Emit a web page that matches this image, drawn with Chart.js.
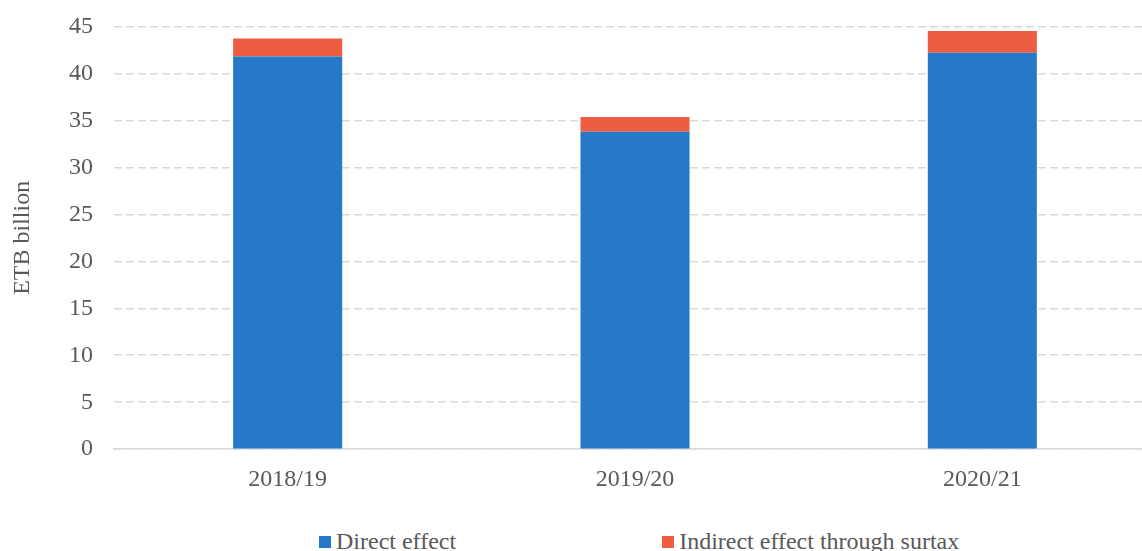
<!DOCTYPE html>
<html>
<head>
<meta charset="utf-8">
<script src="https://cdn.jsdelivr.net/npm/chart.js@4.4.1/dist/chart.umd.min.js"></script>
<style>
  body { margin: 0; background: #fff; }
  #wrap { position: relative; width: 1142px; height: 551px; overflow: hidden; }
  #box { position: absolute; left: 0; top: -9px; width: 1156px; height: 519px; }
  #legend { position: absolute; left: 319px; top: 528px; display: flex; font: 24px "Liberation Serif", serif; color: #595959; white-space: nowrap; }
  #legend .item { display: flex; align-items: center; margin-right: 206px; }
  #legend .sw { width: 12px; height: 12px; margin-right: 5px; }
</style>
</head>
<body>
<div id="wrap">
  <div id="box"><canvas id="myChart"></canvas></div>
  <div id="legend"></div>
</div>
<script>
const years = ['2018/19', '2019/20', '2020/21'];
const directEffect = [41.8, 33.8, 42.2];
const indirectEffect = [1.9, 1.55, 2.3];
const seriesNames = ['Direct effect', 'Indirect effect through surtax'];
const seriesColors = ['#2678c8', '#ec5d41'];

const font = { family: '"Liberation Serif", serif', size: 24 };
const textColor = '#595959';
const gridColor = '#d9d9d9';

const ctx = document.getElementById('myChart').getContext('2d');
const myChart = new Chart(ctx, {
    type: 'bar',
    data: {
        labels: years,
        datasets: [
            { label: seriesNames[0], data: directEffect, backgroundColor: seriesColors[0] },
            { label: seriesNames[1], data: indirectEffect, backgroundColor: seriesColors[1] }
        ]
    },
    options: {
        responsive: true,
        maintainAspectRatio: false,
        animation: false,
        layout: { padding: { top: 20, bottom: 0, left: 0, right: 0 } },
        datasets: {
            bar: { categoryPercentage: 1, barPercentage: 0.314 }
        },
        plugins: {
            legend: { display: false },
            tooltip: { enabled: false }
        },
        scales: {
            x: {
                stacked: true,
                grid: { display: false, drawTicks: false },
                border: { display: true, color: gridColor, width: 1.5 },
                ticks: { font: font, color: textColor, padding: 16 }
            },
            y: {
                stacked: true,
                min: 0,
                max: 45,
                afterFit: scale => { scale.width = 114; },
                grid: { color: gridColor, lineWidth: 1.5, drawTicks: false },
                border: { display: false, dash: [8, 4] },
                ticks: { stepSize: 5, font: font, color: textColor, padding: 21 },
                title: { display: true, text: 'ETB billion', font: font, color: textColor, padding: { top: 8, bottom: 0 } }
            }
        }
    }
});

// legend drawn as html under the canvas
const legend = document.getElementById('legend');
myChart.data.datasets.forEach(ds => {
    const item = document.createElement('div');
    item.className = 'item';
    const sw = document.createElement('span');
    sw.className = 'sw';
    sw.style.background = ds.backgroundColor;
    const txt = document.createElement('span');
    txt.textContent = ds.label;
    item.appendChild(sw);
    item.appendChild(txt);
    legend.appendChild(item);
});
</script>
</body>
</html>
